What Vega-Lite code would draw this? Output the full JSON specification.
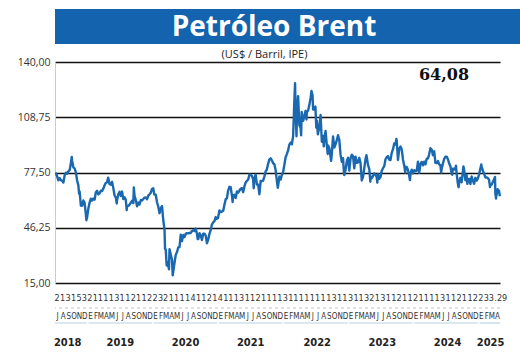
{
  "$schema": "https://vega.github.io/schema/vega-lite/v6.json",
  "padding": {"left": 16, "top": 9, "right": 4, "bottom": 4},
  "spacing": 5,
  "config": {
    "locale": {"number": {"decimal": ",", "thousands": ".", "grouping": [3], "currency": ["$", ""]}},
    "view": {"stroke": null},
    "font": "Open Sans"
  },
  "datasets": {
    "brent": [
      {"date":"2018-07-02","price":77.3},{"date":"2018-07-06","price":77.1},{"date":"2018-07-13","price":75.3},{"date":"2018-07-20","price":73.1},{"date":"2018-07-27","price":74.3},
      {"date":"2018-08-03","price":73.2},{"date":"2018-08-10","price":72.8},{"date":"2018-08-17","price":71.8},{"date":"2018-08-24","price":75.8},{"date":"2018-08-31","price":77.4},
      {"date":"2018-09-07","price":76.8},{"date":"2018-09-14","price":78.1},{"date":"2018-09-21","price":78.8},{"date":"2018-09-28","price":82.7},{"date":"2018-10-03","price":86.3},
      {"date":"2018-10-05","price":84.2},{"date":"2018-10-12","price":80.4},{"date":"2018-10-19","price":79.8},{"date":"2018-10-26","price":77.6},{"date":"2018-11-02","price":73.0},
      {"date":"2018-11-09","price":70.2},{"date":"2018-11-13","price":65.5},{"date":"2018-11-16","price":66.8},{"date":"2018-11-23","price":58.8},{"date":"2018-11-30","price":58.7},
      {"date":"2018-12-07","price":61.7},{"date":"2018-12-14","price":60.3},{"date":"2018-12-21","price":53.8},{"date":"2018-12-24","price":50.5},{"date":"2018-12-28","price":52.2},
      {"date":"2019-01-04","price":57.1},{"date":"2019-01-11","price":60.5},{"date":"2019-01-18","price":62.7},{"date":"2019-01-25","price":61.6},{"date":"2019-02-01","price":62.8},
      {"date":"2019-02-08","price":62.1},{"date":"2019-02-15","price":66.3},{"date":"2019-02-22","price":67.1},{"date":"2019-03-01","price":65.1},{"date":"2019-03-08","price":65.7},
      {"date":"2019-03-15","price":67.2},{"date":"2019-03-22","price":67.0},{"date":"2019-03-29","price":68.4},{"date":"2019-04-05","price":70.3},{"date":"2019-04-12","price":71.6},
      {"date":"2019-04-19","price":72.0},{"date":"2019-04-25","price":74.6},{"date":"2019-05-03","price":70.9},{"date":"2019-05-10","price":70.6},{"date":"2019-05-17","price":72.2},
      {"date":"2019-05-24","price":68.7},{"date":"2019-05-31","price":64.5},{"date":"2019-06-07","price":63.3},{"date":"2019-06-12","price":60.0},{"date":"2019-06-14","price":62.0},
      {"date":"2019-06-21","price":65.2},{"date":"2019-06-28","price":66.6},{"date":"2019-07-05","price":64.2},{"date":"2019-07-12","price":66.7},{"date":"2019-07-19","price":62.5},
      {"date":"2019-07-26","price":63.5},{"date":"2019-08-02","price":61.9},{"date":"2019-08-07","price":56.2},{"date":"2019-08-09","price":58.5},{"date":"2019-08-16","price":58.6},
      {"date":"2019-08-23","price":59.3},{"date":"2019-08-30","price":60.4},{"date":"2019-09-06","price":61.5},{"date":"2019-09-13","price":60.2},{"date":"2019-09-16","price":69.0},
      {"date":"2019-09-20","price":64.3},{"date":"2019-09-27","price":61.9},{"date":"2019-10-04","price":58.4},{"date":"2019-10-11","price":60.5},{"date":"2019-10-18","price":59.4},
      {"date":"2019-10-25","price":61.9},{"date":"2019-11-01","price":61.7},{"date":"2019-11-08","price":62.5},{"date":"2019-11-15","price":63.3},{"date":"2019-11-22","price":63.4},
      {"date":"2019-11-29","price":62.4},{"date":"2019-12-06","price":64.4},{"date":"2019-12-13","price":65.2},{"date":"2019-12-20","price":66.1},{"date":"2019-12-27","price":68.2},
      {"date":"2020-01-03","price":68.6},{"date":"2020-01-08","price":65.4},{"date":"2020-01-10","price":65.0},{"date":"2020-01-17","price":64.9},{"date":"2020-01-24","price":60.7},
      {"date":"2020-01-31","price":58.2},{"date":"2020-02-07","price":54.5},{"date":"2020-02-14","price":57.3},{"date":"2020-02-21","price":58.5},{"date":"2020-02-28","price":50.5},
      {"date":"2020-03-06","price":45.3},{"date":"2020-03-09","price":34.4},{"date":"2020-03-13","price":33.9},{"date":"2020-03-18","price":24.9},{"date":"2020-03-20","price":27.0},
      {"date":"2020-03-27","price":24.9},{"date":"2020-03-31","price":22.7},{"date":"2020-04-03","price":34.1},{"date":"2020-04-09","price":31.5},{"date":"2020-04-17","price":28.1},
      {"date":"2020-04-21","price":19.3},{"date":"2020-04-24","price":21.4},{"date":"2020-05-01","price":26.4},{"date":"2020-05-08","price":31.0},{"date":"2020-05-15","price":32.5},
      {"date":"2020-05-22","price":35.1},{"date":"2020-05-29","price":35.3},{"date":"2020-06-05","price":42.3},{"date":"2020-06-12","price":38.7},{"date":"2020-06-19","price":42.2},
      {"date":"2020-06-26","price":41.0},{"date":"2020-07-03","price":42.8},{"date":"2020-07-10","price":43.2},{"date":"2020-07-17","price":43.1},{"date":"2020-07-24","price":43.3},
      {"date":"2020-07-31","price":43.3},{"date":"2020-08-07","price":44.4},{"date":"2020-08-14","price":44.8},{"date":"2020-08-21","price":44.4},{"date":"2020-08-28","price":45.8},
      {"date":"2020-09-04","price":42.7},{"date":"2020-09-08","price":39.8},{"date":"2020-09-11","price":39.8},{"date":"2020-09-18","price":43.2},{"date":"2020-09-25","price":41.9},
      {"date":"2020-10-02","price":39.3},{"date":"2020-10-09","price":42.9},{"date":"2020-10-16","price":42.9},{"date":"2020-10-23","price":41.8},{"date":"2020-10-30","price":37.5},
      {"date":"2020-11-06","price":39.5},{"date":"2020-11-13","price":42.8},{"date":"2020-11-20","price":45.0},{"date":"2020-11-27","price":48.2},{"date":"2020-12-04","price":49.3},
      {"date":"2020-12-11","price":50.0},{"date":"2020-12-18","price":52.3},{"date":"2020-12-24","price":51.3},{"date":"2020-12-31","price":51.8},
      {"date":"2021-01-08","price":56.0},{"date":"2021-01-15","price":55.1},{"date":"2021-01-22","price":55.4},{"date":"2021-01-29","price":55.9},{"date":"2021-02-05","price":59.3},
      {"date":"2021-02-12","price":62.4},{"date":"2021-02-19","price":62.9},{"date":"2021-02-25","price":66.9},{"date":"2021-03-05","price":69.4},{"date":"2021-03-12","price":69.2},
      {"date":"2021-03-19","price":64.5},{"date":"2021-03-23","price":60.8},{"date":"2021-03-26","price":64.6},{"date":"2021-04-02","price":64.9},{"date":"2021-04-09","price":63.0},
      {"date":"2021-04-16","price":66.8},{"date":"2021-04-23","price":66.1},{"date":"2021-04-30","price":67.3},{"date":"2021-05-07","price":68.3},{"date":"2021-05-14","price":68.7},
      {"date":"2021-05-21","price":66.4},{"date":"2021-05-28","price":69.6},{"date":"2021-06-04","price":71.9},{"date":"2021-06-11","price":72.7},{"date":"2021-06-18","price":73.5},
      {"date":"2021-06-25","price":76.2},{"date":"2021-07-02","price":76.2},{"date":"2021-07-09","price":75.6},{"date":"2021-07-16","price":73.6},{"date":"2021-07-19","price":68.6},
      {"date":"2021-07-23","price":74.1},{"date":"2021-07-30","price":76.3},{"date":"2021-08-06","price":70.7},{"date":"2021-08-13","price":70.6},{"date":"2021-08-20","price":65.2},
      {"date":"2021-08-27","price":72.7},{"date":"2021-09-03","price":72.6},{"date":"2021-09-10","price":72.9},{"date":"2021-09-17","price":75.3},{"date":"2021-09-24","price":78.1},
      {"date":"2021-10-01","price":79.3},{"date":"2021-10-08","price":82.4},{"date":"2021-10-15","price":84.9},{"date":"2021-10-22","price":85.5},{"date":"2021-10-29","price":84.4},
      {"date":"2021-11-05","price":82.7},{"date":"2021-11-12","price":82.2},{"date":"2021-11-19","price":78.9},{"date":"2021-11-26","price":72.7},{"date":"2021-12-01","price":68.9},
      {"date":"2021-12-03","price":69.9},{"date":"2021-12-10","price":75.2},{"date":"2021-12-17","price":73.5},{"date":"2021-12-24","price":76.1},{"date":"2021-12-31","price":77.8},
      {"date":"2022-01-07","price":81.8},{"date":"2022-01-14","price":86.1},{"date":"2022-01-21","price":87.9},{"date":"2022-01-28","price":90.0},{"date":"2022-02-04","price":93.3},
      {"date":"2022-02-11","price":94.4},{"date":"2022-02-18","price":93.5},{"date":"2022-02-25","price":97.9},{"date":"2022-03-04","price":118.1},{"date":"2022-03-08","price":128.0},
      {"date":"2022-03-11","price":112.7},{"date":"2022-03-16","price":98.0},{"date":"2022-03-18","price":107.9},{"date":"2022-03-24","price":119.0},{"date":"2022-03-25","price":120.7},
      {"date":"2022-04-01","price":104.4},{"date":"2022-04-08","price":102.8},{"date":"2022-04-11","price":98.5},{"date":"2022-04-14","price":111.7},{"date":"2022-04-22","price":106.7},
      {"date":"2022-04-29","price":109.3},{"date":"2022-05-06","price":112.4},{"date":"2022-05-11","price":107.5},{"date":"2022-05-13","price":111.6},{"date":"2022-05-20","price":112.6},
      {"date":"2022-05-27","price":115.6},{"date":"2022-06-03","price":119.7},{"date":"2022-06-08","price":123.6},{"date":"2022-06-14","price":121.2},{"date":"2022-06-17","price":113.1},
      {"date":"2022-06-24","price":113.1},{"date":"2022-06-30","price":114.8},{"date":"2022-07-05","price":102.8},{"date":"2022-07-08","price":107.0},{"date":"2022-07-14","price":99.1},
      {"date":"2022-07-22","price":103.2},{"date":"2022-07-29","price":110.0},{"date":"2022-08-05","price":94.9},{"date":"2022-08-12","price":98.2},{"date":"2022-08-16","price":92.3},
      {"date":"2022-08-19","price":96.7},{"date":"2022-08-26","price":101.0},{"date":"2022-09-02","price":93.0},{"date":"2022-09-07","price":88.0},{"date":"2022-09-09","price":92.8},
      {"date":"2022-09-16","price":91.4},{"date":"2022-09-23","price":86.2},{"date":"2022-09-26","price":84.1},{"date":"2022-09-30","price":88.0},{"date":"2022-10-07","price":97.9},
      {"date":"2022-10-14","price":91.6},{"date":"2022-10-21","price":93.5},{"date":"2022-10-28","price":95.8},{"date":"2022-11-04","price":98.6},{"date":"2022-11-11","price":96.0},
      {"date":"2022-11-18","price":87.6},{"date":"2022-11-25","price":83.6},{"date":"2022-12-02","price":85.6},{"date":"2022-12-07","price":77.2},{"date":"2022-12-09","price":76.1},
      {"date":"2022-12-16","price":79.0},{"date":"2022-12-23","price":83.9},{"date":"2022-12-30","price":85.9},
      {"date":"2023-01-06","price":78.6},{"date":"2023-01-13","price":85.3},{"date":"2023-01-20","price":87.6},{"date":"2023-01-27","price":86.7},{"date":"2023-02-03","price":79.9},
      {"date":"2023-02-10","price":86.4},{"date":"2023-02-17","price":83.0},{"date":"2023-02-24","price":83.2},{"date":"2023-03-03","price":85.8},{"date":"2023-03-10","price":82.8},
      {"date":"2023-03-17","price":73.0},{"date":"2023-03-24","price":75.0},{"date":"2023-03-31","price":79.8},{"date":"2023-04-07","price":85.1},{"date":"2023-04-12","price":87.3},
      {"date":"2023-04-14","price":86.3},{"date":"2023-04-21","price":81.7},{"date":"2023-04-28","price":79.5},{"date":"2023-05-04","price":72.3},{"date":"2023-05-05","price":75.3},
      {"date":"2023-05-12","price":74.2},{"date":"2023-05-19","price":75.6},{"date":"2023-05-26","price":77.0},{"date":"2023-06-02","price":76.1},{"date":"2023-06-09","price":74.8},
      {"date":"2023-06-12","price":71.8},{"date":"2023-06-16","price":76.6},{"date":"2023-06-23","price":73.9},{"date":"2023-06-30","price":74.9},{"date":"2023-07-07","price":78.5},
      {"date":"2023-07-14","price":79.9},{"date":"2023-07-21","price":81.1},{"date":"2023-07-28","price":85.0},{"date":"2023-08-04","price":86.2},{"date":"2023-08-11","price":86.8},
      {"date":"2023-08-18","price":84.8},{"date":"2023-08-25","price":84.5},{"date":"2023-09-01","price":88.6},{"date":"2023-09-08","price":90.7},{"date":"2023-09-15","price":93.9},
      {"date":"2023-09-22","price":93.3},{"date":"2023-09-27","price":96.5},{"date":"2023-09-29","price":95.3},{"date":"2023-10-06","price":84.6},{"date":"2023-10-13","price":90.9},
      {"date":"2023-10-20","price":92.2},{"date":"2023-10-27","price":90.5},{"date":"2023-11-03","price":84.9},{"date":"2023-11-10","price":81.4},{"date":"2023-11-16","price":77.4},
      {"date":"2023-11-17","price":80.6},{"date":"2023-11-24","price":80.6},{"date":"2023-12-01","price":78.9},{"date":"2023-12-08","price":75.8},{"date":"2023-12-12","price":73.2},
      {"date":"2023-12-15","price":76.6},{"date":"2023-12-22","price":79.1},{"date":"2023-12-29","price":77.0},
      {"date":"2024-01-05","price":78.8},{"date":"2024-01-12","price":78.3},{"date":"2024-01-19","price":78.6},{"date":"2024-01-26","price":83.6},{"date":"2024-02-02","price":77.3},
      {"date":"2024-02-09","price":82.2},{"date":"2024-02-16","price":83.5},{"date":"2024-02-23","price":81.6},{"date":"2024-03-01","price":83.6},{"date":"2024-03-08","price":82.1},
      {"date":"2024-03-15","price":85.3},{"date":"2024-03-22","price":85.4},{"date":"2024-03-28","price":87.5},{"date":"2024-04-05","price":91.2},{"date":"2024-04-12","price":90.5},
      {"date":"2024-04-19","price":87.3},{"date":"2024-04-26","price":89.5},{"date":"2024-05-03","price":83.0},{"date":"2024-05-10","price":82.8},{"date":"2024-05-17","price":84.0},
      {"date":"2024-05-24","price":82.1},{"date":"2024-05-31","price":81.6},{"date":"2024-06-04","price":77.5},{"date":"2024-06-07","price":79.6},{"date":"2024-06-14","price":82.6},
      {"date":"2024-06-21","price":85.2},{"date":"2024-06-28","price":86.4},{"date":"2024-07-05","price":86.5},{"date":"2024-07-12","price":85.0},{"date":"2024-07-19","price":82.6},
      {"date":"2024-07-26","price":81.1},{"date":"2024-08-02","price":76.8},{"date":"2024-08-05","price":76.3},{"date":"2024-08-09","price":79.7},{"date":"2024-08-16","price":79.7},
      {"date":"2024-08-23","price":79.0},{"date":"2024-08-26","price":81.4},{"date":"2024-08-30","price":76.9},{"date":"2024-09-06","price":71.1},{"date":"2024-09-10","price":69.2},
      {"date":"2024-09-13","price":71.6},{"date":"2024-09-20","price":74.5},{"date":"2024-09-27","price":72.0},{"date":"2024-10-04","price":78.1},{"date":"2024-10-07","price":80.9},
      {"date":"2024-10-11","price":79.0},{"date":"2024-10-18","price":73.1},{"date":"2024-10-25","price":76.1},{"date":"2024-10-29","price":71.1},{"date":"2024-11-01","price":73.1},
      {"date":"2024-11-08","price":73.9},{"date":"2024-11-15","price":71.0},{"date":"2024-11-22","price":75.2},{"date":"2024-11-29","price":72.9},{"date":"2024-12-06","price":71.1},
      {"date":"2024-12-13","price":74.5},{"date":"2024-12-20","price":72.9},{"date":"2024-12-27","price":74.2},
      {"date":"2025-01-03","price":76.5},{"date":"2025-01-10","price":79.8},{"date":"2025-01-15","price":82.0},{"date":"2025-01-17","price":81.0},{"date":"2025-01-24","price":78.5},
      {"date":"2025-01-31","price":76.8},{"date":"2025-02-07","price":74.7},{"date":"2025-02-14","price":74.7},{"date":"2025-02-21","price":74.4},{"date":"2025-02-28","price":73.2},
      {"date":"2025-03-05","price":69.3},{"date":"2025-03-07","price":70.4},{"date":"2025-03-14","price":70.6},{"date":"2025-03-21","price":72.2},{"date":"2025-03-28","price":73.6},
      {"date":"2025-04-02","price":75.0},{"date":"2025-04-04","price":65.6},{"date":"2025-04-08","price":62.8},{"date":"2025-04-09","price":65.5},{"date":"2025-04-11","price":64.8},
      {"date":"2025-04-17","price":68.0},{"date":"2025-04-22","price":67.4},{"date":"2025-04-25","price":66.9},{"date":"2025-04-29","price":64.08}
    ],
    "months": [
      {"month":"2018-07-01","l":"J","d":"2"},{"month":"2018-08-01","l":"A","d":"1"},{"month":"2018-09-01","l":"S","d":"3"},{"month":"2018-10-01","l":"O","d":"1"},{"month":"2018-11-01","l":"N","d":"5"},{"month":"2018-12-01","l":"D","d":"3"},
      {"month":"2019-01-01","l":"E","d":"2"},{"month":"2019-02-01","l":"F","d":"1"},{"month":"2019-03-01","l":"M","d":"1"},{"month":"2019-04-01","l":"A","d":"1"},{"month":"2019-05-01","l":"M","d":"1"},{"month":"2019-06-01","l":"J","d":"3"},
      {"month":"2019-07-01","l":"J","d":"1"},{"month":"2019-08-01","l":"A","d":"1"},{"month":"2019-09-01","l":"S","d":"2"},{"month":"2019-10-01","l":"O","d":"1"},{"month":"2019-11-01","l":"N","d":"1"},{"month":"2019-12-01","l":"D","d":"2"},
      {"month":"2020-01-01","l":"E","d":"2"},{"month":"2020-02-01","l":"F","d":"3"},{"month":"2020-03-01","l":"M","d":"2"},{"month":"2020-04-01","l":"A","d":"1"},{"month":"2020-05-01","l":"M","d":"1"},{"month":"2020-06-01","l":"J","d":"1"},
      {"month":"2020-07-01","l":"J","d":"1"},{"month":"2020-08-01","l":"A","d":"4"},{"month":"2020-09-01","l":"S","d":"1"},{"month":"2020-10-01","l":"O","d":"1"},{"month":"2020-11-01","l":"N","d":"2"},{"month":"2020-12-01","l":"D","d":"1"},
      {"month":"2021-01-01","l":"E","d":"4"},{"month":"2021-02-01","l":"F","d":"1"},{"month":"2021-03-01","l":"M","d":"1"},{"month":"2021-04-01","l":"A","d":"1"},{"month":"2021-05-01","l":"M","d":"3"},{"month":"2021-06-01","l":"J","d":"1"},
      {"month":"2021-07-01","l":"J","d":"1"},{"month":"2021-08-01","l":"A","d":"2"},{"month":"2021-09-01","l":"S","d":"1"},{"month":"2021-10-01","l":"O","d":"1"},{"month":"2021-11-01","l":"N","d":"1"},{"month":"2021-12-01","l":"D","d":"1"},
      {"month":"2022-01-01","l":"E","d":"3"},{"month":"2022-02-01","l":"F","d":"1"},{"month":"2022-03-01","l":"M","d":"1"},{"month":"2022-04-01","l":"A","d":"1"},{"month":"2022-05-01","l":"M","d":"1"},{"month":"2022-06-01","l":"J","d":"1"},
      {"month":"2022-07-01","l":"J","d":"1"},{"month":"2022-08-01","l":"A","d":"1"},{"month":"2022-09-01","l":"S","d":"1"},{"month":"2022-10-01","l":"O","d":"3"},{"month":"2022-11-01","l":"N","d":"1"},{"month":"2022-12-01","l":"D","d":"1"},
      {"month":"2023-01-01","l":"E","d":"3"},{"month":"2023-02-01","l":"F","d":"1"},{"month":"2023-03-01","l":"M","d":"1"},{"month":"2023-04-01","l":"A","d":"3"},{"month":"2023-05-01","l":"M","d":"2"},{"month":"2023-06-01","l":"J","d":"1"},
      {"month":"2023-07-01","l":"J","d":"3"},{"month":"2023-08-01","l":"A","d":"1"},{"month":"2023-09-01","l":"S","d":"1"},{"month":"2023-10-01","l":"O","d":"2"},{"month":"2023-11-01","l":"N","d":"1"},{"month":"2023-12-01","l":"D","d":"1"},
      {"month":"2024-01-01","l":"E","d":"2"},{"month":"2024-02-01","l":"F","d":"1"},{"month":"2024-03-01","l":"M","d":"1"},{"month":"2024-04-01","l":"A","d":"1"},{"month":"2024-05-01","l":"M","d":"1"},{"month":"2024-06-01","l":"J","d":"3"},
      {"month":"2024-07-01","l":"J","d":"1"},{"month":"2024-08-01","l":"A","d":"1"},{"month":"2024-09-01","l":"S","d":"2"},{"month":"2024-10-01","l":"O","d":"1"},{"month":"2024-11-01","l":"N","d":"1"},{"month":"2024-12-01","l":"D","d":"2"},
      {"month":"2025-01-01","l":"E","d":"2"},{"month":"2025-02-01","l":"F","d":"3"},{"month":"2025-03-01","l":"M","d":"3"},{"month":"2025-04-01","l":"A","d":".29"}
    ],
    "years": [
      {"year":"2018","start":"2018-07-01","end":"2018-12-28","mid":"2018-09-10"},
      {"year":"2019","start":"2019-01-05","end":"2019-12-28","mid":"2019-07-02"},
      {"year":"2020","start":"2020-01-05","end":"2020-12-28","mid":"2020-07-02"},
      {"year":"2021","start":"2021-01-05","end":"2021-12-28","mid":"2021-07-02"},
      {"year":"2022","start":"2022-01-05","end":"2022-12-28","mid":"2022-07-10"},
      {"year":"2023","start":"2023-01-05","end":"2023-12-28","mid":"2023-07-10"},
      {"year":"2024","start":"2024-01-05","end":"2024-12-28","mid":"2024-07-10"},
      {"year":"2025","start":"2025-01-05","end":"2025-04-30","mid":"2025-03-08"}
    ]
  },
  "vconcat": [
    {
      "width": 490,
      "height": 35,
      "data": {"values": [{}]},
      "view": {"fill": "#1463ae", "stroke": null},
      "mark": {"type": "text", "text": "Petróleo Brent", "font": "Open Sans", "fontWeight": "bold", "fontSize": 28, "color": "white", "dx": -26, "dy": 1, "baseline": "middle", "align": "center"},
      "encoding": {}
    },
    {
      "width": 445,
      "height": 221,
      "title": {"text": "(US$ / Barril, IPE)", "fontSize": 11, "fontWeight": "normal", "font": "Open Sans", "color": "#222", "frame": "bounds", "anchor": "middle", "offset": -3, "dx": 6},
      "data": {"name": "brent"},
      "layer": [
        {
          "mark": {"type": "line", "color": "#1a68b0", "strokeWidth": 2.4, "strokeJoin": "round"},
          "encoding": {
            "x": {"field": "date", "type": "temporal", "scale": {"domain": [{"year": 2018, "month": 7, "date": 1}, {"year": 2025, "month": 4, "date": 30}]}, "axis": null},
            "y": {"field": "price", "type": "quantitative", "scale": {"domain": [15, 140], "nice": false, "zero": false},
              "axis": {"values": [15, 46.25, 77.5, 108.75, 140], "format": ".2f", "grid": true, "gridColor": "#111", "gridWidth": 1.3, "ticks": false, "domain": true, "domainColor": "#cccccc", "labelFont": "Open Sans", "labelFontSize": 10.5, "labelColor": "#333", "labelPadding": 5, "title": null, "minExtent": 39, "maxExtent": 39}}
          }
        },
        {
          "transform": [{"aggregate": [{"op": "argmax", "field": "date", "as": "last"}]}],
          "mark": {"type": "text", "font": "DejaVu Serif", "fontWeight": "bold", "fontSize": 16, "color": "#111", "baseline": "middle"},
          "encoding": {
            "x": {"datum": {"year": 2024, "month": 6, "date": 20}, "type": "temporal"},
            "y": {"datum": 132.6},
            "text": {"field": "last.price", "type": "quantitative", "format": ".2f"}
          }
        }
      ]
    },
    {
      "width": 445,
      "height": 55,
      "layer": [
        {
          "data": {"name": "months"},
          "mark": {"type": "text", "align": "left", "dx": -0.5, "baseline": "middle", "font": "'Liberation Sans Narrow', 'DejaVu Sans Condensed', sans-serif", "fontSize": 9, "color": "#333"},
          "encoding": {
            "x": {"field": "month", "type": "temporal", "scale": {"domain": [{"year": 2018, "month": 7, "date": 1}, {"year": 2025, "month": 4, "date": 30}]}, "axis": null},
            "y": {"datum": -1, "scale": {"domain": [0, 55], "reverse": true}, "axis": {"labels": false, "ticks": false, "grid": false, "domain": false, "title": null, "minExtent": 39, "maxExtent": 39}},
            "text": {"field": "d"}
          }
        },
        {
          "data": {"values": [{}]},
          "mark": {"type": "rule", "color": "#b8c4cc", "strokeDash": [3, 3], "strokeWidth": 1},
          "encoding": {"y": {"datum": 9}}
        },
        {
          "data": {"name": "months"},
          "mark": {"type": "text", "align": "center", "dx": 2.6, "baseline": "middle", "font": "'Liberation Sans Narrow', 'DejaVu Sans Condensed', sans-serif", "fontSize": 8, "color": "#333"},
          "encoding": {
            "x": {"field": "month", "type": "temporal"},
            "y": {"datum": 18},
            "text": {"field": "l"}
          }
        },
        {
          "data": {"name": "years"},
          "mark": {"type": "rule", "color": "#b9d0e2", "strokeWidth": 1.2},
          "encoding": {
            "x": {"field": "start", "type": "temporal"},
            "x2": {"field": "end"},
            "y": {"datum": 24}
          }
        },
        {
          "data": {"name": "years"},
          "mark": {"type": "text", "align": "center", "baseline": "middle", "font": "'Liberation Sans Narrow', 'DejaVu Sans Condensed', sans-serif", "fontWeight": "bold", "fontSize": 11, "color": "#222"},
          "encoding": {
            "x": {"field": "mid", "type": "temporal"},
            "y": {"datum": 44},
            "text": {"field": "year"}
          }
        }
      ]
    }
  ],
  "align": "none"
}
